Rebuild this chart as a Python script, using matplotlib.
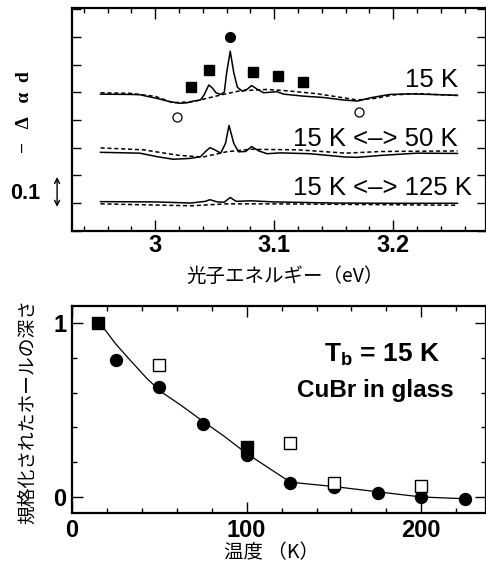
import matplotlib
matplotlib.use("Agg")
import matplotlib.pyplot as plt
from matplotlib.ticker import MultipleLocator, FixedLocator

plt.rcParams['font.family'] = ['Liberation Sans', 'DejaVu Sans']
plt.rcParams['mathtext.fontset'] = 'custom'
plt.rcParams['mathtext.rm'] = 'Liberation Sans:bold'
plt.rcParams['mathtext.bf'] = 'Liberation Sans:bold'

# ---- upper panel: differential absorption spectra (photon energy, eV) ----
e_15_solid = [2.954, 2.979, 2.987, 3.004, 3.012, 3.021, 3.027, 3.032, 3.038, 3.041,
              3.045, 3.048, 3.051, 3.055, 3.058, 3.060, 3.063, 3.066, 3.069, 3.073,
              3.077, 3.081, 3.086, 3.091, 3.097, 3.102, 3.108, 3.124, 3.141, 3.158,
              3.170, 3.181, 3.197, 3.214, 3.231, 3.254]
v_15_solid = [0.393, 0.392, 0.391, 0.375, 0.366, 0.360, 0.362, 0.368, 0.372, 0.390,
              0.426, 0.415, 0.398, 0.392, 0.400, 0.470, 0.548, 0.470, 0.418, 0.404,
              0.410, 0.424, 0.410, 0.398, 0.400, 0.402, 0.393, 0.386, 0.381, 0.372,
              0.368, 0.380, 0.392, 0.394, 0.392, 0.389]
e_15_dash = [2.954, 2.979, 3.000, 3.015, 3.032, 3.055, 3.071, 3.094, 3.111, 3.135,
             3.155, 3.170, 3.185, 3.200, 3.220, 3.254]
v_15_dash = [0.398, 0.396, 0.385, 0.362, 0.366, 0.390, 0.405, 0.410, 0.405, 0.395,
             0.382, 0.372, 0.378, 0.390, 0.395, 0.388]

e_50_solid = [2.954, 2.987, 3.002, 3.015, 3.029, 3.038, 3.042, 3.046, 3.050, 3.055,
              3.059, 3.062, 3.066, 3.070, 3.076, 3.081, 3.087, 3.094, 3.105, 3.130,
              3.160, 3.170, 3.190, 3.220, 3.254]
v_50_solid = [0.183, 0.180, 0.167, 0.158, 0.161, 0.167, 0.185, 0.200, 0.192, 0.180,
              0.215, 0.280, 0.215, 0.185, 0.186, 0.204, 0.188, 0.178, 0.181, 0.178,
              0.166, 0.165, 0.172, 0.180, 0.179]
e_50_dash = [2.954, 2.990, 3.020, 3.040, 3.060, 3.080, 3.120, 3.160, 3.190, 3.254]
v_50_dash = [0.199, 0.192, 0.172, 0.166, 0.185, 0.194, 0.192, 0.180, 0.186, 0.188]

e_125_solid = [2.954, 3.000, 3.030, 3.042, 3.046, 3.052, 3.058, 3.063, 3.068, 3.080,
               3.100, 3.150, 3.200, 3.254]
v_125_solid = [0.005, 0.004, 0.000, 0.006, 0.012, 0.004, 0.003, 0.020, 0.006, 0.008,
               0.004, 0.000, -0.001, -0.001]
e_125_dash = [2.954, 3.030, 3.060, 3.100, 3.254]
v_125_dash = [-0.003, -0.010, -0.003, -0.003, -0.008]

# markers on the 15 K spectrum
sq_e = [3.030, 3.045, 3.082, 3.103, 3.124]
sq_v = [0.420, 0.480, 0.474, 0.458, 0.438]
dot_e = [3.063]
dot_v = [0.600]
ring_e = [3.018, 3.171]
ring_v = [0.312, 0.330]

# ---- lower panel: normalized hole depth vs temperature (K) ----
t_circ = [25, 50, 75, 100, 125, 150, 175, 200, 225]
d_circ = [0.79, 0.63, 0.42, 0.24, 0.08, 0.06, 0.025, 0.0, -0.01]
t_fsq = [15, 100]
d_fsq = [1.0, 0.29]
t_osq = [50, 125, 150, 200]
d_osq = [0.76, 0.31, 0.08, 0.065]
t_fit = [15, 19, 25, 33, 43, 51, 62, 75, 87, 100, 125, 150, 175, 200, 225]
d_fit = [1.0, 0.96, 0.88, 0.79, 0.68, 0.605, 0.53, 0.435, 0.35, 0.25, 0.085, 0.06,
         0.03, 0.0, -0.01]

fig = plt.figure(figsize=(4.86, 5.68), dpi=100)
ax1 = fig.add_axes([72/486, 1-231/568, 414/486, 223/568])
ax2 = fig.add_axes([72/486, 1-513/568, 414/486, 207/568])

lw_c = 1.1
dash = (2.7, 1.8)
ax1.plot(e_15_solid, v_15_solid, color='black', lw=lw_c)
ax1.plot(e_15_dash, v_15_dash, color='black', lw=lw_c, dashes=dash)
ax1.plot(e_50_solid, v_50_solid, color='black', lw=lw_c)
ax1.plot(e_50_dash, v_50_dash, color='black', lw=lw_c, dashes=dash)
ax1.plot(e_125_solid, v_125_solid, color='black', lw=lw_c)
ax1.plot(e_125_dash, v_125_dash, color='black', lw=lw_c, dashes=dash)

ax1.plot(sq_e, sq_v, 's', color='black', ms=6.8, ls='none')
ax1.plot(dot_e, dot_v, 'o', color='black', ms=7, ls='none')
ax1.plot(ring_e, ring_v, 'o', mfc='white', mec='black', mew=0.9, ms=6.5, ls='none')

ax1.set_xlim(2.93, 3.278)
ax1.set_ylim(-0.101, 0.704)
ax1.xaxis.set_major_locator(FixedLocator([3.0, 3.1, 3.2]))
ax1.xaxis.set_minor_locator(MultipleLocator(0.02))
ax1.yaxis.set_major_locator(MultipleLocator(0.1))
ax1.set_xticklabels(['3', '3.1', '3.2'])
ax1.set_yticklabels([])
ax1.tick_params(axis='x', which='major', direction='in', length=8, width=1,
                top=True, labelsize=17, pad=2)
ax1.tick_params(axis='x', which='minor', direction='in', length=3.5, width=1, top=True)
ax1.tick_params(axis='y', which='major', direction='in', length=6.5, width=1,
                right=True, labelleft=False)
for lab in ax1.get_xticklabels():
    lab.set_fontweight('bold')

ax1.text(0.932, 0.647, '15 K', transform=ax1.transAxes, ha='right', va='baseline',
         fontsize=18.5)
ax1.text(0.932, 0.383, '15 K <–> 50 K', transform=ax1.transAxes, ha='right',
         va='baseline', fontsize=18.5)
ax1.text(0.966, 0.161, '15 K <–> 125 K', transform=ax1.transAxes, ha='right',
         va='baseline', fontsize=18.5)

ax1.text(-0.114, 0.534, '−   Δ   α  d', transform=ax1.transAxes, rotation=90,
         ha='center', va='center', fontsize=14, fontweight='bold',
         family=['Liberation Serif', 'DejaVu Serif'])
ax1.text(-0.114, 0.170, '0.1', transform=ax1.transAxes, ha='center', va='center',
         fontsize=15.5, fontweight='bold')
ax1.annotate('', xy=(-0.036, -0.014), xytext=(-0.036, 0.094),
             xycoords=('axes fraction', 'data'), textcoords=('axes fraction', 'data'),
             arrowprops=dict(arrowstyle='<->', lw=1.0, color='black',
                             shrinkA=0, shrinkB=0, mutation_scale=9),
             annotation_clip=False)

fig.text(285/486, 1-276/568, '光子エネルギー（eV）', ha='center', va='center',
         fontsize=14, family=['Noto Sans CJK JP', 'DejaVu Sans'])

# lower panel
ax2.plot(t_fit, d_fit, color='black', lw=0.9)
ax2.plot(t_circ, d_circ, 'o', color='black', ms=8.6, ls='none')
ax2.plot(t_osq, d_osq, 's', mfc='white', mec='black', mew=1.0, ms=8.4, ls='none')
ax2.plot(t_fsq, d_fsq, 's', color='black', ms=8.4, ls='none')

ax2.set_xlim(0, 237)
ax2.set_ylim(-0.092, 1.098)
ax2.xaxis.set_major_locator(FixedLocator([0, 100, 200]))
ax2.xaxis.set_minor_locator(MultipleLocator(20))
ax2.yaxis.set_major_locator(FixedLocator([0, 1]))
ax2.yaxis.set_minor_locator(MultipleLocator(0.2))
ax2.set_yticklabels(['0', '1'])
ax2.tick_params(axis='both', which='major', direction='in', length=8, width=1,
                top=True, right=True, labelsize=17)
ax2.tick_params(axis='x', which='major', pad=4)
ax2.tick_params(axis='y', which='major', pad=4)
ax2.tick_params(axis='both', which='minor', direction='in', length=3.5, width=1,
                top=True, right=True)
for lab in ax2.get_xticklabels() + ax2.get_yticklabels():
    lab.set_fontweight('bold')

ax2.text(0.748, 0.731, r'T$_{\mathbf{b}}$ = 15 K', transform=ax2.transAxes,
         ha='center', va='baseline', fontsize=19, fontweight='bold')
ax2.text(0.733, 0.559, 'CuBr in glass', transform=ax2.transAxes, ha='center',
         va='baseline', fontsize=17.5, fontweight='bold')

fig.text(27/486, 1-411/568, '規格化されたホールの深さ', rotation=90, ha='center',
         va='center', fontsize=13.5, family=['Noto Sans CJK JP', 'DejaVu Sans'])
fig.text(271/486, 1-553/568, '温度 （K）', ha='center', va='center', fontsize=14,
         family=['Noto Sans CJK JP', 'DejaVu Sans'])

for ax in (ax1, ax2):
    for s in ax.spines.values():
        s.set_linewidth(1.6)

fig.savefig('out.png', dpi=100)
